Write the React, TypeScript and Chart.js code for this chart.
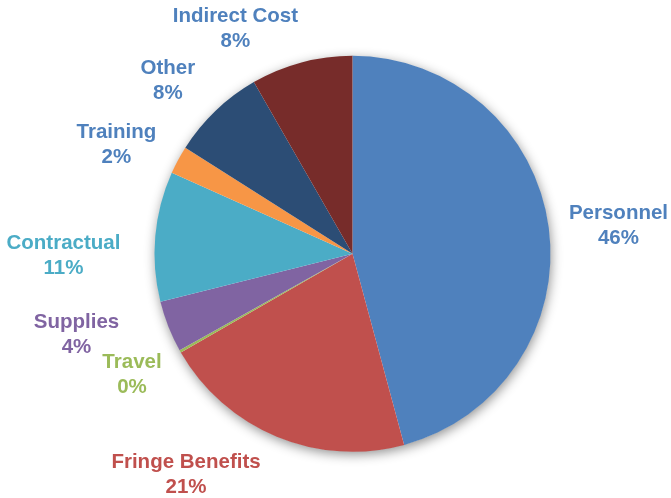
import React, { useEffect, useRef } from "react";
import { Chart, registerables } from "chart.js";

Chart.register(...registerables);

const categories = ["Personnel", "Fringe Benefits", "Travel", "Supplies", "Contractual", "Training", "Other", "Indirect Cost"];
const values = [45.8, 20.9, 0.2, 4.2, 10.6, 2.3, 7.7, 8.3];
const sliceColors = ["#4F81BD", "#C0504D", "#9BBB59", "#8064A2", "#4BACC6", "#F79646", "#2C4D75", "#772C2A"];
const labelColors = ["#4F81BD", "#C0504D", "#9BBB59", "#8064A2", "#4BACC6", "#4F81BD", "#4F81BD", "#4F81BD"];
// label block offsets from the slice's outer edge at its mid angle (layout only)
const labelOffsets: [number, number][] = [
  [69.7, -1.4],
  [-90.7, 38.3],
  [-48.2, 23.8],
  [-91.9, 8.4],
  [-91.8, 19.5],
  [-61.7, -15.6],
  [-47.7, -29.6],
  [-66.1, -33.9],
];

const shadowPlugin = {
  id: "pieShadow",
  beforeDatasetsDraw(chart: any) {
    const meta = chart.getDatasetMeta(0);
    const arc = meta.data[0];
    if (!arc) return;
    const { x, y, outerRadius } = arc.getProps(["x", "y", "outerRadius"], true);
    const ctx = chart.ctx;
    ctx.save();
    ctx.shadowColor = "rgba(0,0,0,0.45)";
    ctx.shadowBlur = 12;
    ctx.shadowOffsetX = 1;
    ctx.shadowOffsetY = 3;
    ctx.fillStyle = "#ffffff";
    ctx.beginPath();
    ctx.arc(x, y, outerRadius - 0.5, 0, Math.PI * 2);
    ctx.fill();
    ctx.restore();
  },
};

const labelPlugin = {
  id: "pieLabels",
  afterDatasetsDraw(chart: any) {
    const meta = chart.getDatasetMeta(0);
    const ds = chart.data.datasets[0].data as number[];
    const total = ds.reduce((a, b) => a + b, 0);
    const ctx = chart.ctx;
    ctx.save();
    ctx.font = "bold 20.5px 'Liberation Sans', Arial, sans-serif";
    ctx.textAlign = "center";
    ctx.textBaseline = "middle";
    meta.data.forEach((arc: any, i: number) => {
      const { x, y, startAngle, endAngle, outerRadius } = arc.getProps(
        ["x", "y", "startAngle", "endAngle", "outerRadius"],
        true
      );
      const mid = (startAngle + endAngle) / 2;
      const ex = x + Math.cos(mid) * outerRadius;
      const ey = y + Math.sin(mid) * outerRadius;
      const cx = ex + labelOffsets[i][0];
      const cy = ey + labelOffsets[i][1];
      const pct = Math.round((ds[i] / total) * 100) + "%";
      ctx.fillStyle = labelColors[i];
      ctx.fillText(chart.data.labels[i], cx, cy - 12.5);
      ctx.fillText(pct, cx, cy + 12.5);
    });
    ctx.restore();
  },
};

export default function App() {
  const ref = useRef<HTMLCanvasElement | null>(null);
  useEffect(() => {
    if (!ref.current) return;
    const chart = new Chart(ref.current, {
      type: "pie",
      data: {
        labels: categories,
        datasets: [
          {
            data: values,
            backgroundColor: sliceColors,
            borderWidth: 0,
          },
        ],
      },
      options: {
        animation: false,
        responsive: true,
        maintainAspectRatio: false,
        layout: { padding: { left: 154.5, right: 120.5, top: 55.75, bottom: 46.25 } },
        plugins: {
          legend: { display: false },
          tooltip: { enabled: false },
        },
      },
      plugins: [shadowPlugin, labelPlugin],
    });
    return () => chart.destroy();
  }, []);
  return (
    <div style={{ position: "fixed", left: 0, top: 0, width: 671, height: 498, background: "#fff" }}>
      <canvas ref={ref} />
    </div>
  );
}
